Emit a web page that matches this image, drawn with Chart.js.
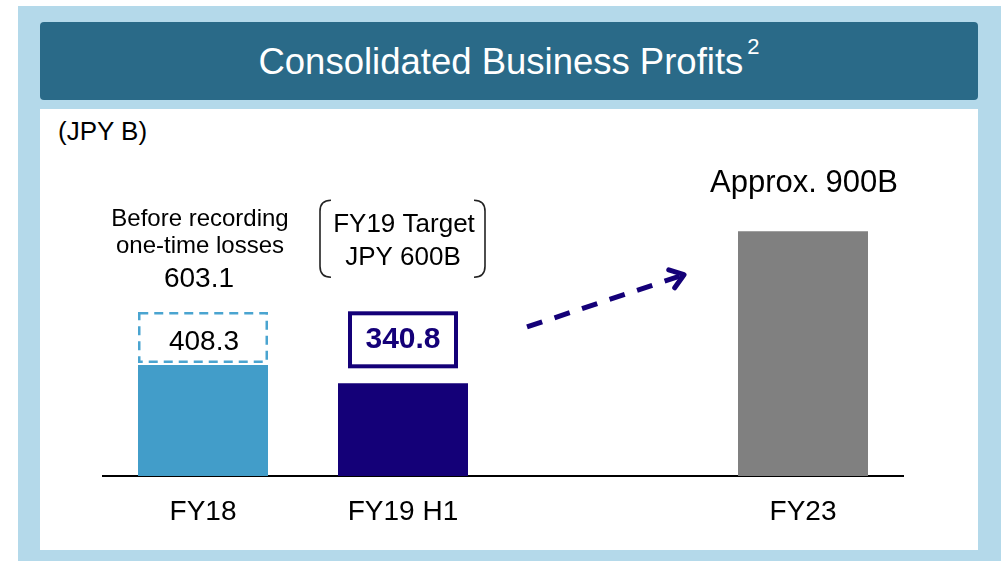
<!DOCTYPE html>
<html>
<head>
<meta charset="utf-8">
<script src="https://cdn.jsdelivr.net/npm/chart.js@4.4.1/dist/chart.umd.min.js"></script>
<style>
  html, body { margin: 0; padding: 0; background: #fff; }
  body { width: 1006px; height: 561px; position: relative; overflow: hidden; font-family: "Liberation Sans", Arial, sans-serif; }
  .frame { position: absolute; left: 18px; top: 6px; width: 983px; height: 555px; background: #b4d9ea; }
  .panel { position: absolute; left: 40px; top: 109px; width: 938px; height: 441px; background: #fff; }
  .header { position: absolute; left: 40px; top: 22px; width: 938px; height: 76px; padding-top: 2px; background: #2a6a88; border-radius: 4px; color: #fff; font-size: 36.5px; line-height: 76px; text-align: center; }
  .header .sup { font-size: 22px; position: relative; top: -20px; margin-left: 4px; }
  .unit { position: absolute; left: 58px; top: 118px; font-size: 26px; line-height: 26px; color: #000; }
  canvas { position: absolute; left: 0; top: 0; }
</style>
</head>
<body>
<div class="frame"></div>
<div class="panel"></div>
<div class="header">Consolidated Business Profits<span class="sup">2</span></div>
<div class="unit">(JPY B)</div>
<canvas id="profitChart" width="1006" height="561"></canvas>
<script>
// values in JPY B
const categories = ["FY18", "FY19 H1", "", "FY23"];
const businessProfits = [408.3, 340.8, null, 900];
const beforeOneTimeLosses = [603.1, null, null, null];
const fy19Target = 600;

const FONT = '"Liberation Sans", Arial, sans-serif';
const NAVY = "#140078";

// part of FY18 that was lost to one-time losses, drawn as the dashed box
const lossGap = beforeOneTimeLosses.map((v, i) => (v == null ? null : v - businessProfits[i]));

function text(ctx, str, x, y, size, color, bold) {
  ctx.font = (bold ? "bold " : "") + size + "px " + FONT;
  ctx.fillStyle = color || "#000";
  ctx.textAlign = "center";
  ctx.textBaseline = "alphabetic";
  ctx.fillText(str, x, y);
}

const annotations = {
  id: "annotations",
  afterDatasetsDraw(chart) {
    const ctx = chart.ctx;
    const bars = chart.getDatasetMeta(0).data;
    const gaps = chart.getDatasetMeta(1).data;
    ctx.save();

    // FY18: dashed box up to the pre-loss figure
    const g = gaps[0];
    const left = g.x - g.width / 2;
    ctx.strokeStyle = "#4aa4d0";
    ctx.lineWidth = 2.5;
    ctx.setLineDash([9, 6]);
    ctx.strokeRect(left + 1.25, g.y + 1.25, g.width - 2.5, g.base - g.y - 4.5);
    ctx.setLineDash([]);
    text(ctx, businessProfits[0].toFixed(1), g.x + 1, g.y + 38, 28);
    text(ctx, beforeOneTimeLosses[0].toFixed(1), g.x - 4, g.y - 25, 28);
    text(ctx, "one-time losses", g.x - 3, g.y - 59, 24);
    text(ctx, "Before recording", g.x - 3, g.y - 86, 24);

    // FY19 H1: boxed value and target in brackets
    const b = bars[1];
    ctx.strokeStyle = NAVY;
    ctx.lineWidth = 4;
    ctx.strokeRect(b.x - 53, b.y - 70, 106, 53);
    text(ctx, businessProfits[1].toFixed(1), b.x, b.y - 35, 30, NAVY, true);
    text(ctx, "FY19 Target", b.x + 1, b.y - 151, 26);
    text(ctx, "JPY " + fy19Target + "B", b.x, b.y - 118, 26);

    ctx.strokeStyle = "#222";
    ctx.lineWidth = 1.6;
    const top = b.y - 183, bot = b.y - 106;
    [[-83, 1], [82, -1]].forEach(([dx, dir]) => {
      const vx = b.x + dx;
      ctx.beginPath();
      ctx.moveTo(vx + 11 * dir, top);
      ctx.quadraticCurveTo(vx, top, vx, top + 11);
      ctx.lineTo(vx, bot - 11);
      ctx.quadraticCurveTo(vx, bot, vx + 11 * dir, bot);
      ctx.stroke();
    });

    // FY23 label
    const f = bars[3];
    text(ctx, "Approx. " + businessProfits[3] + "B", f.x + 1, f.y - 39, 31);

    // dashed arrow across the gap column
    const xs = chart.scales.x, ys = chart.scales.y;
    const cx = xs.getPixelForValue(2);
    const x0 = cx - 76, y0 = ys.getPixelForValue(548);
    const x1 = cx + 81, y1 = ys.getPixelForValue(740);
    ctx.strokeStyle = NAVY;
    ctx.lineWidth = 5;
    ctx.setLineDash([16, 13]);
    ctx.beginPath();
    ctx.moveTo(x0, y0);
    ctx.lineTo(x1, y1);
    ctx.stroke();
    ctx.setLineDash([]);
    const ang = Math.atan2(y0 - y1, x0 - x1);
    ctx.lineCap = "round";
    ctx.lineJoin = "round";
    ctx.beginPath();
    ctx.moveTo(x1 + 16 * Math.cos(ang - 0.63), y1 + 16 * Math.sin(ang - 0.63));
    ctx.lineTo(x1, y1);
    ctx.lineTo(x1 + 16 * Math.cos(ang + 0.63), y1 + 16 * Math.sin(ang + 0.63));
    ctx.stroke();

    ctx.restore();
  }
};

new Chart(document.getElementById("profitChart"), {
  type: "bar",
  data: {
    labels: categories,
    datasets: [
      {
        label: "Business profits",
        data: businessProfits,
        backgroundColor: ["#429dc9", NAVY, "#ffffff", "#808080"],
        categoryPercentage: 1,
        barPercentage: 0.65
      },
      {
        label: "Before one-time losses",
        data: lossGap,
        backgroundColor: "rgba(255,255,255,0)",
        categoryPercentage: 1,
        barPercentage: 0.65
      }
    ]
  },
  options: {
    responsive: false,
    animation: false,
    devicePixelRatio: 1,
    layout: { padding: { left: 103, right: 103, top: 204, bottom: 13.4 } },
    plugins: { legend: { display: false }, tooltip: { enabled: false } },
    scales: {
      x: {
        stacked: true,
        grid: { display: false, drawTicks: false },
        border: { display: true, color: "#000", width: 2 },
        ticks: { color: "#000", padding: 19, font: { family: FONT, size: 28 } }
      },
      y: { stacked: true, display: false, min: 0, max: 1000 }
    }
  },
  plugins: [annotations]
});
</script>
</body>
</html>
